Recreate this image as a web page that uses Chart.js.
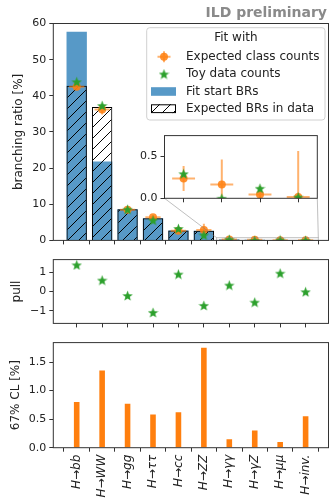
<!DOCTYPE html>
<html>
<head>
<meta charset="utf-8">
<script src="https://cdn.jsdelivr.net/npm/chart.js@4.4.0/dist/chart.umd.min.js"></script>
<style>
  html, body { margin: 0; padding: 0; background: #fff; overflow: hidden; }
  #wrap { position: relative; width: 329px; height: 501px; }
  #wrap canvas { position: absolute; }
  #ild { position: absolute; right: 2px; top: 5px; font: bold 14px "DejaVu Sans"; line-height: 14px; color: #8a8a8a; white-space: nowrap; }
</style>
</head>
<body>
<div id="wrap">
  <canvas id="mainChart" width="329" height="250" style="left:0;top:0"></canvas>
  <canvas id="insetChart" width="194" height="82" style="left:128px;top:126px"></canvas>
  <canvas id="pullChart" width="329" height="83" style="left:0;top:250px"></canvas>
  <canvas id="clChart" width="329" height="168" style="left:0;top:333px"></canvas>
  <div id="ild">ILD preliminary</div>
</div>
<script>
// Decay channels
const categories = ['H→bb', 'H→WW', 'H→gg', 'H→ττ', 'H→cc', 'H→ZZ', 'H→γγ', 'H→γZ', 'H→μμ', 'H→inv.'];

// Branching ratios [%]
const fitStartBR = [57.7, 21.8, 8.6, 6.1, 2.75, 2.65, 0.23, 0.15, 0.02, 0.1];
const expectedBR = [42.8, 36.9, 8.6, 6.1, 2.75, 2.65, 0.24, 0.17, 0.04, 0.01];
const fitExpectedCounts = [42.5, 36.2, 8.5, 6.4, 2.7, 2.85, 0.236, 0.164, 0.046, 0.015];
const fitToyCounts = [43.9, 37.3, 8.6, 5.6, 3.3, 1.5, 0.294, 0.0, 0.12, 0.015];

// Pull of the toy fit and 67% CL width [%]
const pulls = [1.38, 0.59, -0.21, -1.08, 0.90, -0.72, 0.33, -0.55, 0.95, -0.01];
const cl67 = [0.80, 1.35, 0.77, 0.58, 0.62, 1.75, 0.15, 0.30, 0.10, 0.55];

// Zoomed channels in the inset
const insetFrom = 6;

Chart.defaults.font.family = '"DejaVu Sans", sans-serif';
Chart.defaults.color = '#222';
Chart.defaults.animation = false;

const axisColor = '#333';
const blue = '#5799c7';
const orange = 'rgba(255,127,14,0.85)';
const orangeErr = 'rgba(255,127,14,0.6)';
const green = '#2ca02c';

const pts = (arr, from = 0) => arr.slice(from).map((v, i) => ({ x: i + from, y: v }));

// Filled five point star like matplotlib '*'
function makeStar(size, color) {
    const c = document.createElement('canvas');
    c.width = c.height = size;
    const ctx = c.getContext('2d');
    const R = size / 2, r = R * 0.42;
    ctx.beginPath();
    for (let k = 0; k < 10; k++) {
        const rad = k % 2 ? r : R;
        const a = -Math.PI / 2 + k * Math.PI / 5;
        ctx.lineTo(R + rad * Math.cos(a), R + 0.6 + rad * Math.sin(a));
    }
    ctx.closePath();
    ctx.fillStyle = color;
    ctx.fill();
    return c;
}

// '//' hatch
function makeHatch(ctxRef) {
    const s = 11;
    const c = document.createElement('canvas');
    c.width = c.height = s;
    const ctx = c.getContext('2d');
    ctx.strokeStyle = '#000';
    ctx.lineWidth = 1;
    ctx.beginPath();
    ctx.moveTo(0, s); ctx.lineTo(s, 0);
    ctx.moveTo(-s / 2, s / 2); ctx.lineTo(s / 2, -s / 2);
    ctx.moveTo(s / 2, s * 1.5); ctx.lineTo(s * 1.5, s / 2);
    ctx.stroke();
    return ctxRef.createPattern(c, 'repeat');
}

const star = makeStar(11, green);
const hatch = makeHatch(document.getElementById('mainChart').getContext('2d'));

// Full box around the axes
const frame = {
    id: 'frame',
    afterDatasetsDraw(chart) {
        const { ctx, chartArea: a } = chart;
        ctx.save();
        ctx.strokeStyle = axisColor;
        ctx.lineWidth = 1;
        ctx.strokeRect(a.left, a.top, a.right - a.left, a.bottom - a.top);
        ctx.restore();
    }
};

const whiteArea = {
    id: 'whiteArea',
    beforeDraw(chart) {
        const { ctx, chartArea: a } = chart;
        ctx.save();
        ctx.fillStyle = '#fff';
        ctx.fillRect(a.left, a.top, a.right - a.left, a.bottom - a.top);
        ctx.restore();
    }
};

// x and y error bars for datasets that carry errY
const errorBars = {
    id: 'errorBars',
    beforeDatasetDraw(chart, args) {
        const ds = chart.data.datasets[args.index];
        if (!ds.errY) return;
        const { ctx, chartArea: a, scales: { x, y } } = chart;
        ctx.save();
        ctx.beginPath();
        ctx.rect(a.left, a.top, a.right - a.left, a.bottom - a.top);
        ctx.clip();
        ctx.strokeStyle = orangeErr;
        ctx.lineWidth = 2;
        ds.data.forEach((p, i) => {
            const px = x.getPixelForValue(p.x), py = y.getPixelForValue(p.y);
            ctx.beginPath();
            ctx.moveTo(x.getPixelForValue(p.x - ds.errX), py);
            ctx.lineTo(x.getPixelForValue(p.x + ds.errX), py);
            ctx.moveTo(px, y.getPixelForValue(p.y - ds.errY[i]));
            ctx.lineTo(px, y.getPixelForValue(p.y + ds.errY[i]));
            ctx.stroke();
        });
        ctx.restore();
    }
};

const xCat = (height, labels) => ({
    type: 'linear',
    min: -0.92,
    max: 9.9,
    offset: false,
    afterBuildTicks: s => { s.ticks = categories.map((c, i) => ({ value: i })); },
    afterFit: s => { s.height = height; },
    border: { display: false },
    grid: { drawOnChartArea: false, drawTicks: true, tickLength: 4, color: axisColor },
    ticks: labels ? {
        autoSkip: false,
        maxRotation: 90,
        minRotation: 90,
        padding: 3,
        font: { size: 12, style: 'italic' },
        callback: v => categories[v]
    } : { display: false }
});

const yAxis = (min, max, step, title, titlePad, fmt) => ({
    min, max,
    afterFit: s => { s.width = 53.3; },
    border: { display: false },
    grid: { drawOnChartArea: false, drawTicks: true, tickLength: 4, color: axisColor },
    ticks: { stepSize: step, includeBounds: false, padding: 3, font: { size: 11 }, callback: fmt },
    title: { display: true, text: title, font: { size: 12 }, padding: { top: titlePad, bottom: 0 } }
});

const commonPlugins = { legend: { display: false }, tooltip: { enabled: false } };

// Inset with the small channels
const insetChart = new Chart(document.getElementById('insetChart'), {
    type: 'scatter',
    data: {
        datasets: [
            { label: 'Toy data counts', data: pts(fitToyCounts, insetFrom), pointStyle: star, pointRadius: 5.5 },
            { label: 'Expected class counts', data: pts(fitExpectedCounts, insetFrom), errY: cl67.slice(insetFrom), errX: 0.3,
              pointRadius: 4, backgroundColor: orange, borderWidth: 0 }
        ]
    },
    options: {
        responsive: false,
        layout: { autoPadding: false, padding: { top: 7.3, right: 4.7, left: 0, bottom: 0 } },
        plugins: commonPlugins,
        scales: {
            x: {
                type: 'linear', min: insetFrom - 0.5, max: categories.length - 0.5,
                afterBuildTicks: s => { s.ticks = categories.slice(insetFrom).map((c, i) => ({ value: i + insetFrom })); },
                afterFit: s => { s.height = 9.7; },
                border: { display: false },
                grid: { drawOnChartArea: false, drawTicks: true, tickLength: 4, color: axisColor },
                ticks: { display: false }
            },
            y: {
                min: 0, max: 0.75,
                afterFit: s => { s.width = 36.5; },
                border: { display: false },
                grid: { drawOnChartArea: false, drawTicks: true, tickLength: 4, color: axisColor },
                ticks: { stepSize: 0.5, includeBounds: false, padding: 3, font: { size: 11 }, callback: v => v.toFixed(1) }
            }
        }
    },
    plugins: [whiteArea, errorBars, frame]
});

// Zoom rectangle and connectors to the inset
const indicator = {
    id: 'indicator',
    afterDatasetsDraw(chart) {
        const { ctx, scales: { x, y } } = chart;
        const ix = insetChart.scales.x, iy = insetChart.scales.y;
        const ia = insetChart.chartArea;
        const offX = 128, offY = 126;
        const l = x.getPixelForValue(ix.min), r = x.getPixelForValue(ix.max);
        const t = y.getPixelForValue(iy.max), b = y.getPixelForValue(iy.min);
        ctx.save();
        ctx.strokeStyle = 'rgba(128,128,128,0.5)';
        ctx.lineWidth = 1;
        ctx.strokeRect(l, t, r - l, b - t);
        ctx.beginPath();
        ctx.moveTo(ia.left + offX, ia.bottom + offY); ctx.lineTo(l, t);
        ctx.moveTo(ia.right + offX, ia.bottom + offY); ctx.lineTo(r, t);
        ctx.stroke();
        ctx.restore();
    }
};

// Legend box with title, drawn inside the axes
const legendBox = {
    id: 'legendBox',
    afterDraw(chart) {
        const { ctx, chartArea: a } = chart;
        const ds = chart.data.datasets;
        const x0 = a.right - 181.8, y0 = a.top + 4.2, w = 178.3, h = 92.3;
        ctx.save();
        ctx.beginPath();
        ctx.roundRect(x0, y0, w, h, 3);
        ctx.fillStyle = 'rgba(255,255,255,0.8)';
        ctx.fill();
        ctx.strokeStyle = '#d0d0d0';
        ctx.lineWidth = 1;
        ctx.stroke();

        ctx.fillStyle = '#222';
        ctx.font = '12px "DejaVu Sans"';
        ctx.textBaseline = 'middle';
        ctx.textAlign = 'center';
        ctx.fillText('Fit with', x0 + w / 2, y0 + 10.5);
        ctx.textAlign = 'left';

        const rows = [y0 + 29, y0 + 46.3, y0 + 63.8, y0 + 81];
        const hx = x0 + 17.3, tx = x0 + 39.3;

        // expected class counts
        ctx.strokeStyle = orangeErr;
        ctx.lineWidth = 2;
        ctx.beginPath();
        ctx.moveTo(hx - 6.5, rows[0]); ctx.lineTo(hx + 6.5, rows[0]);
        ctx.moveTo(hx, rows[0] - 5.5); ctx.lineTo(hx, rows[0] + 5.5);
        ctx.stroke();
        ctx.fillStyle = orange;
        ctx.beginPath();
        ctx.arc(hx, rows[0], 4, 0, Math.PI * 2);
        ctx.fill();
        // toy data counts
        ctx.drawImage(star, hx - star.width / 2, rows[1] - star.height / 2);
        // fit start
        ctx.fillStyle = blue;
        ctx.fillRect(x0 + 4.3, rows[2] - 4.3, 25, 8.6);
        // expected BRs
        ctx.fillStyle = hatch;
        ctx.fillRect(x0 + 4.3, rows[3] - 4.4, 25, 8.8);
        ctx.strokeStyle = '#000';
        ctx.lineWidth = 1;
        ctx.strokeRect(x0 + 4.8, rows[3] - 3.9, 24, 7.8);

        ctx.fillStyle = '#222';
        [ds[1], ds[0], ds[3], ds[2]].forEach((d, i) => ctx.fillText(d.label, tx, rows[i]));
        ctx.restore();
    }
};

// Branching ratios
new Chart(document.getElementById('mainChart'), {
    type: 'bar',
    data: {
        datasets: [
            { type: 'line', label: 'Toy data counts', data: pts(fitToyCounts), showLine: false,
              pointStyle: star, pointRadius: 5.5 },
            { type: 'line', label: 'Expected class counts', data: pts(fitExpectedCounts), showLine: false,
              errY: cl67, errX: 0.3, pointRadius: 4, pointBackgroundColor: orange, pointBorderWidth: 0 },
            { label: 'Expected BRs in data', data: pts(expectedBR), backgroundColor: hatch,
              borderColor: '#000', borderWidth: 1 },
            { label: 'Fit start BRs', data: pts(fitStartBR), backgroundColor: blue, borderWidth: 0 }
        ]
    },
    options: {
        responsive: false,
        grouped: false,
        categoryPercentage: 1,
        barPercentage: 0.8,
        layout: { autoPadding: false, padding: { top: 23.5, right: 0.5, left: 0, bottom: 0 } },
        plugins: commonPlugins,
        scales: {
            x: xCat(7.3, false),
            y: yAxis(0, 60, 10, 'branching ratio [%]', 11.8, v => v)
        }
    },
    plugins: [errorBars, indicator, frame, legendBox]
});

// Pulls
new Chart(document.getElementById('pullChart'), {
    type: 'scatter',
    data: {
        datasets: [{ label: 'pull', data: pts(pulls), pointStyle: star, pointRadius: 5.5 }]
    },
    options: {
        responsive: false,
        layout: { autoPadding: false, padding: { top: 3.3, right: 0.5, left: 0, bottom: 0 } },
        plugins: commonPlugins,
        scales: {
            x: xCat(6.3, false),
            y: yAxis(-1.65, 1.65, 1, 'pull', 9.5, v => (v < 0 ? '\u2212' + Math.abs(v) : '' + v))
        }
    },
    plugins: [frame]
});

// 67% CL widths
new Chart(document.getElementById('clChart'), {
    type: 'bar',
    data: {
        datasets: [{ label: '67% CL', data: pts(cl67), backgroundColor: '#ff7f0e', borderWidth: 0 }]
    },
    options: {
        responsive: false,
        categoryPercentage: 1,
        barPercentage: 0.22,
        layout: { autoPadding: false, padding: { top: 4.3, right: 0.5, left: 0, bottom: 0 } },
        plugins: commonPlugins,
        scales: {
            x: xCat(53.3, true),
            y: yAxis(0, 1.84, 0.5, '67% CL [%]', 8.5, v => v.toFixed(1))
        }
    },
    plugins: [frame]
});
</script>
</body>
</html>
